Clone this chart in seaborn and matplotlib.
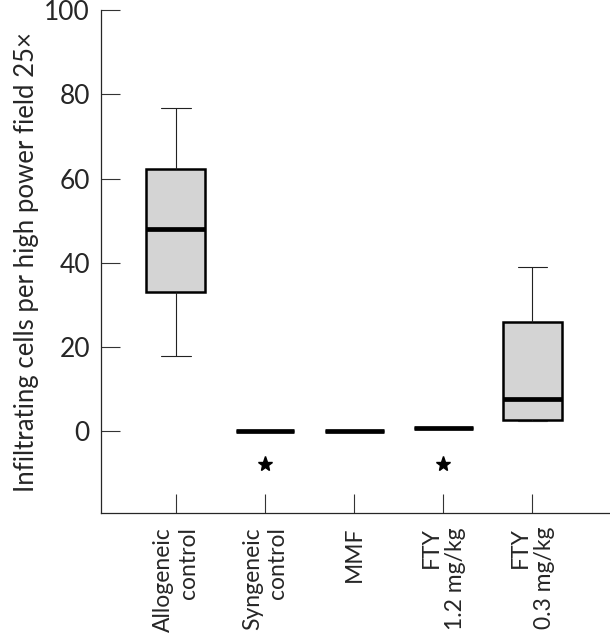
import pandas as pd
import numpy as np
import matplotlib
matplotlib.use("Agg")
import matplotlib.pyplot as plt
import seaborn as sns

# five-number summaries (min, Q1, median, Q3, max)
groups = ["Allogeneic\ncontrol", "Syngeneic\ncontrol", "MMF",
          "FTY\n1.2 mg/kg", "FTY\n0.3 mg/kg"]
allogeneic = [17.8, 33.0, 48.0, 62.2, 76.7]
syngeneic = [0.0, 0.0, 0.0, 0.0, 0.0]
mmf = [0.0, 0.0, 0.0, 0.0, 0.0]
fty_12 = [0.7, 0.7, 0.7, 0.7, 0.7]
fty_03 = [2.4, 2.6, 7.6, 25.9, 39.0]
star_groups = ["Syngeneic\ncontrol", "FTY\n1.2 mg/kg"]
star_y = -7.8
yticks = [0, 20, 40, 60, 80, 100]

rows = []
for g, vals in zip(groups, [allogeneic, syngeneic, mmf, fty_12, fty_03]):
    for v in vals:
        rows.append({"group": g, "value": v})
df = pd.DataFrame(rows)

sns.set_style("ticks")
plt.rcParams["font.family"] = ["Lato", "DejaVu Sans"]

fig = plt.figure(figsize=(6.1, 6.4), dpi=100)
ax = fig.add_axes([0.1656, 0.1984, 0.8344, 0.7856])

sns.boxplot(data=df, x="group", y="value", order=groups, ax=ax,
            width=0.66, color="#d4d4d4", saturation=1, linecolor="black",
            showfliers=False, whis=1.5,
            boxprops=dict(linewidth=1.8, edgecolor="black"),
            medianprops=dict(linewidth=3.4, color="black"),
            whiskerprops=dict(linewidth=0.8, color="#222222"),
            capprops=dict(linewidth=0.8, color="#222222"))

star_x = [groups.index(g) for g in star_groups]
ax.plot(star_x, [star_y] * len(star_x), linestyle="none", marker="*",
        markersize=11, color="black")

ax.set_ylim(-19.5, 100)
ax.set_xlim(-0.84, 4.87)
ax.set_yticks(yticks)
ax.set_xlabel("")
ax.set_ylabel("Infiltrating cells per high power field 25×", fontsize=18.5,
              labelpad=4)
ax.tick_params(axis="both", direction="in", length=13.5, width=0.8,
               color="#333333")
ax.tick_params(axis="y", labelsize=19, pad=8)
ax.tick_params(axis="x", labelsize=16.5, pad=10)
ax.set_xticks(range(len(groups)))
ax.set_xticklabels(groups, rotation=90, ha="center", va="top",
                   multialignment="right")

for s in ["top", "right"]:
    ax.spines[s].set_visible(False)
for s in ["left", "bottom"]:
    ax.spines[s].set_linewidth(0.9)

fig.savefig("out.png", dpi=100)
